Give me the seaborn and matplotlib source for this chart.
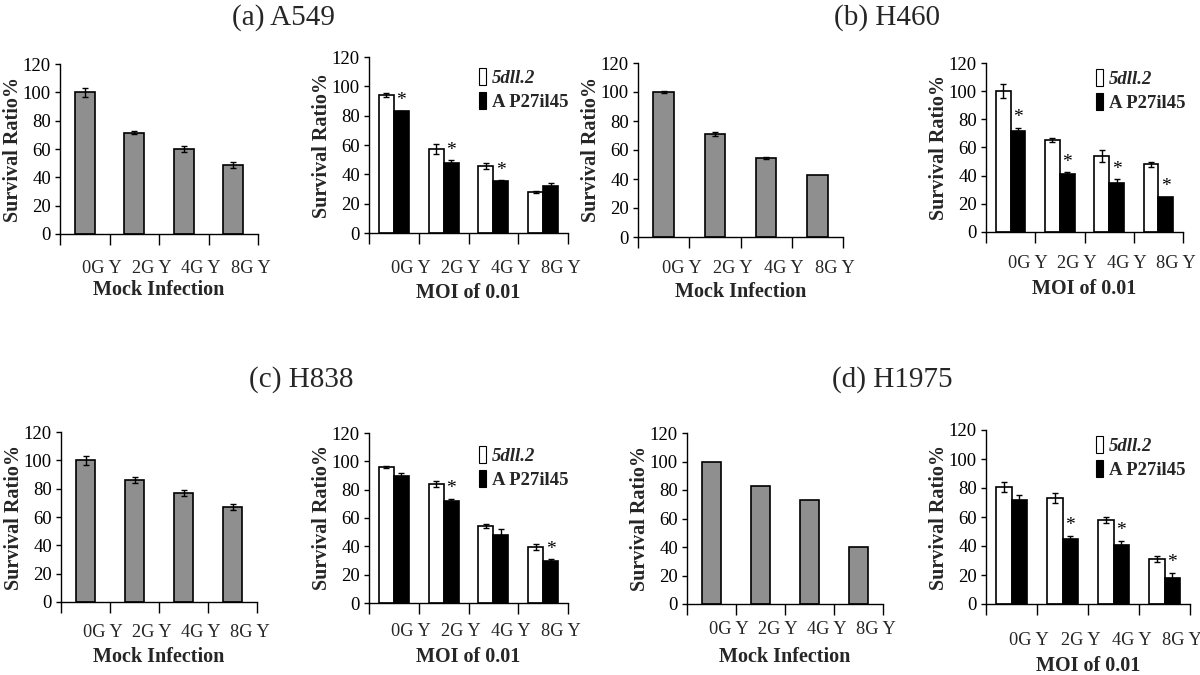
import matplotlib
matplotlib.use("Agg")
import matplotlib.pyplot as plt
import seaborn as sns
import pandas as pd
import numpy as np
from matplotlib.patches import Patch

sns.set_style("white")
plt.rcParams["font.family"] = ["Liberation Serif", "DejaVu Serif"]

# ---------------- data ----------------
categories = ["0G Y", "2G Y", "4G Y", "8G Y"]
series_names = ["5dll.2", "A P27il45"]

titles = ["(a) A549", "(b) H460", "(c) H838", "(d) H1975"]
mock_xlabel = "Mock Infection"
moi_xlabel = "MOI of 0.01"
ylabel = "Survival Ratio%"
yticks = [0, 20, 40, 60, 80, 100, 120]

# Mock infection
mock_a = [100, 71.5, 60, 48.5]
mock_a_err = [3, 1, 2, 2]
mock_b = [100, 71, 54.5, 43]
mock_b_err = [1, 1.5, 0.5, 0]
mock_c = [100, 86, 77, 67]
mock_c_err = [3, 2, 2, 2]
mock_d = [100, 82.5, 73, 40]
mock_d_err = [0, 0, 0, 0]

# MOI of 0.01 : white (5dll.2) and black (A P27il45)
moi_a_white = [94, 57.5, 45.5, 28]
moi_a_white_err = [1.5, 3.5, 2, 0.5]
moi_a_black = [83, 47.5, 35.5, 32]
moi_a_black_err = [0.5, 2, 0.5, 2]
moi_a_star = [True, True, True, False]

moi_b_white = [100, 65.5, 54, 48]
moi_b_white_err = [5, 1.5, 4.5, 1.5]
moi_b_black = [72, 41, 35, 25]
moi_b_black_err = [2, 1.5, 2.5, 0]
moi_b_star = [True, True, True, True]

moi_c_white = [96, 84, 54.5, 39.5]
moi_c_white_err = [1, 2, 1.5, 2]
moi_c_black = [89.5, 72, 48, 29.5]
moi_c_black_err = [2, 1.5, 4, 1.5]
moi_c_star = [False, True, False, True]

moi_d_white = [80.5, 73, 58, 31]
moi_d_white_err = [3.5, 3.5, 2, 2]
moi_d_black = [72, 45, 40.5, 18]
moi_d_black_err = [3.5, 2, 3, 3.5]
moi_d_star = [False, True, True, True]

# ---------------- layout (pixels) ----------------
W, H = 1200, 675
fig = plt.figure(figsize=(12, 6.75), dpi=100)


def add_ax(xl, xr, ytop, ybot):
    return fig.add_axes([xl / W, 1 - ybot / H, (xr - xl) / W, (ybot - ytop) / H])


def style_axis(ax, tickpad_px, xlabel, xlabel_px, ylabel_px):
    ax.set_ylim(0, 120)
    ax.set_xlim(-0.5, 3.5)
    ax.set_yticks(yticks)
    ax.set_yticklabels([str(v) for v in yticks], fontsize=13.5)
    for s in ["top", "right"]:
        ax.spines[s].set_visible(False)
    for s in ["left", "bottom"]:
        ax.spines[s].set_color("black")
        ax.spines[s].set_linewidth(1.0)
    ax.tick_params(axis="y", direction="out", length=3.5, width=1, pad=3, colors="black", left=True)
    # boundary tick marks
    ax.set_xticks([-0.5, 0.5, 1.5, 2.5, 3.5])
    ax.set_xticklabels([])
    ax.tick_params(axis="x", which="major", direction="out", length=8, width=1, bottom=True, colors="black")
    # category labels shifted to the right of the bars
    ax.set_xticks([i + 0.35 for i in range(len(categories))], minor=True)
    ax.set_xticklabels(categories, minor=True, fontsize=13.2)
    ax.tick_params(axis="x", which="minor", length=0, pad=tickpad_px * 0.72)
    ax.set_xlabel("")
    ax.set_ylabel("")
    ax.annotate(xlabel, xy=(0.5, 0), xycoords="axes fraction",
                xytext=(0, -xlabel_px * 0.72), textcoords="offset points",
                ha="center", va="center", fontsize=14.5, fontweight="bold")
    ax.annotate(ylabel, xy=(0, 0.5), xycoords="axes fraction",
                xytext=(-ylabel_px * 0.72, 0), textcoords="offset points",
                ha="center", va="center", rotation=90, fontsize=14.5, fontweight="bold")


def mock_panel(ax, vals, errs, tickpad, xlab_px):
    df = pd.DataFrame({"cat": categories, "val": vals})
    sns.barplot(data=df, x="cat", y="val", order=categories, color="#8f8f8f",
                saturation=1, width=0.4, edgecolor="black", linewidth=1.2,
                errorbar=None, ax=ax)
    bars = ax.containers[0]
    xs = [b.get_x() + b.get_width() / 2 for b in bars]
    hs = [b.get_height() for b in bars]
    e = np.array(errs, dtype=float)
    m = e > 0
    ax.errorbar(np.array(xs)[m], np.array(hs)[m], yerr=e[m], fmt="none",
                ecolor="black", elinewidth=1, capsize=2.5, capthick=1)
    style_axis(ax, tickpad, mock_xlabel, xlab_px, 47)


def moi_panel(ax, white, werr, black, berr, stars, tickpad, xlab_px, leg_xy):
    df = pd.DataFrame({
        "cat": categories * 2,
        "series": [series_names[0]] * 4 + [series_names[1]] * 4,
        "val": list(white) + list(black),
    })
    sns.barplot(data=df, x="cat", y="val", hue="series", order=categories,
                hue_order=series_names, palette=["white", "black"], saturation=1,
                width=0.6, edgecolor="black", linewidth=1.2, errorbar=None,
                legend=False, ax=ax)
    for cont, errs in zip(ax.containers, [werr, berr]):
        xs = np.array([b.get_x() + b.get_width() / 2 for b in cont])
        hs = np.array([b.get_height() for b in cont])
        e = np.array(errs, dtype=float)
        m = e > 0
        ax.errorbar(xs[m], hs[m], yerr=e[m], fmt="none", ecolor="black",
                    elinewidth=1, capsize=2.5, capthick=1)
    bc = ax.containers[1]
    for b, s, e in zip(bc, stars, berr):
        if s:
            ax.text(b.get_x() + b.get_width() / 2, b.get_height() + e + 1.0, "*",
                    ha="center", va="bottom", fontsize=14, color="black")
    style_axis(ax, tickpad, moi_xlabel, xlab_px, 47)
    handles = [Patch(facecolor="white", edgecolor="black", linewidth=0.8),
               Patch(facecolor="black", edgecolor="black", linewidth=0.8)]
    leg = ax.legend(handles, series_names, loc="upper left",
                    bbox_to_anchor=(leg_xy[0] / W, 1 - leg_xy[1] / H),
                    bbox_transform=fig.transFigure, frameon=False,
                    handlelength=0.35, handleheight=1.0, handletextpad=0.35,
                    labelspacing=0.3, borderpad=0, borderaxespad=0,
                    prop={"weight": "bold", "size": 13.5})
    leg.get_texts()[0].set_fontstyle("italic")


ax_am = add_ax(60, 258, 64, 234)
mock_panel(ax_am, mock_a, mock_a_err, 26, 56)
ax_ai = add_ax(369, 568, 57, 233)
moi_panel(ax_ai, moi_a_white, moi_a_white_err, moi_a_black, moi_a_black_err,
          moi_a_star, 27, 60, (479, 68))

ax_bm = add_ax(638, 843, 63, 237)
mock_panel(ax_bm, mock_b, mock_b_err, 23, 55)
ax_bi = add_ax(986, 1183, 63, 232)
moi_panel(ax_bi, moi_b_white, moi_b_white_err, moi_b_black, moi_b_black_err,
          moi_b_star, 23, 57, (1096, 69))

ax_cm = add_ax(61, 257, 432, 602)
mock_panel(ax_cm, mock_c, mock_c_err, 22, 55)
ax_ci = add_ax(369, 568, 433, 603)
moi_panel(ax_ci, moi_c_white, moi_c_white_err, moi_c_black, moi_c_black_err,
          moi_c_star, 20, 54, (479, 446))

ax_dm = add_ax(687, 883, 433, 604)
mock_panel(ax_dm, mock_d, mock_d_err, 17, 53)
ax_di = add_ax(986, 1190, 430, 604)
moi_panel(ax_di, moi_d_white, moi_d_white_err, moi_d_black, moi_d_black_err,
          moi_d_star, 28, 62, (1096, 436))

title_pos = [(283, 18), (887, 18), (301, 380), (892, 380)]
for t, (x, y) in zip(titles, title_pos):
    fig.text(x / W, 1 - y / H, t, ha="center", va="center", fontsize=21)

fig.savefig("out.png", dpi=100, facecolor="white")
